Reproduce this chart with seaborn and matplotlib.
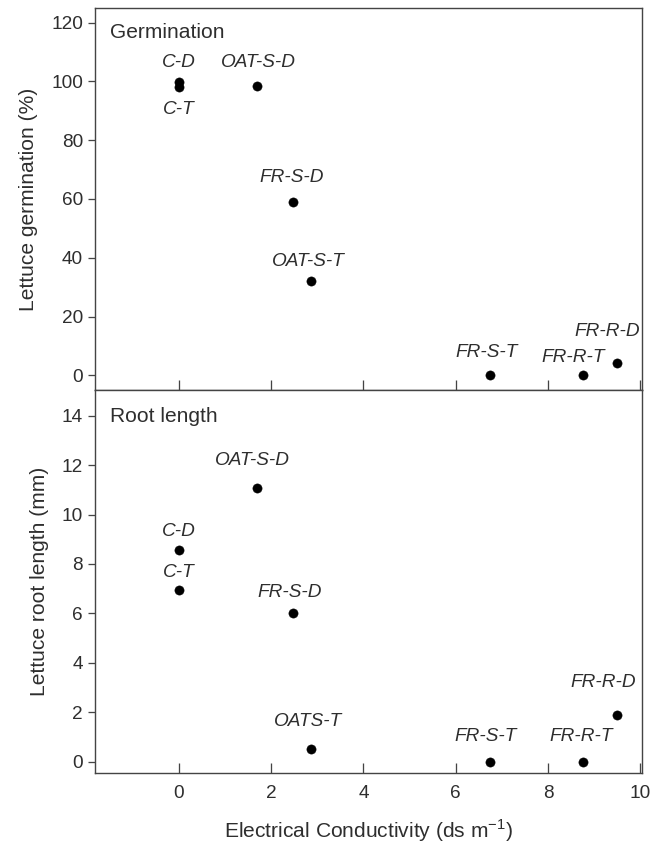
import matplotlib
matplotlib.use("Agg")
import matplotlib.pyplot as plt
import seaborn as sns
import pandas as pd

# ---- data ----
ec = [0.0, 0.0, 1.70, 2.48, 2.86, 6.75, 8.75, 9.49]
labels_germ = ["C-D", "C-T", "OAT-S-D", "FR-S-D", "OAT-S-T", "FR-S-T", "FR-R-T", "FR-R-D"]
germination = [99.8, 98.0, 98.5, 59.0, 32.0, 0.0, 0.0, 4.2]
labels_root = ["C-D", "C-T", "OAT-S-D", "FR-S-D", "OATS-T", "FR-S-T", "FR-R-T", "FR-R-D"]
root_length = [8.57, 6.95, 11.07, 6.01, 0.51, 0.0, 0.0, 1.89]
x_ticks = [0, 2, 4, 6, 8, 10]
germ_ticks = [0, 20, 40, 60, 80, 100, 120]
root_ticks = [0, 2, 4, 6, 8, 10, 12, 14]

# label offsets (points, dx, dy) – layout only
off_germ = [(0, 20), (0, -22), (1, 23), (-2, 24), (-2, 20), (-4, 23), (-9, 18), (-10, 31)]
off_root = [(0, 18), (0, 17), (-5, 28), (-4, 21), (-3, 28), (-5, 25), (-1, 25), (-14, 32)]

sns.set_theme(style="white")
plt.rcParams["font.family"] = ["Liberation Sans", "DejaVu Sans"]
plt.rcParams["mathtext.fontset"] = "custom"
plt.rcParams["mathtext.rm"] = "Liberation Sans"

DPI = 72
fig = plt.figure(figsize=(662 / DPI, 850 / DPI), dpi=DPI)
ax1 = fig.add_axes([0.1435, 0.5412, 0.8265, 0.4494])
ax2 = fig.add_axes([0.1435, 0.0906, 0.8265, 0.4506], sharex=ax1)

df_g = pd.DataFrame({"ec": ec, "val": germination, "lab": labels_germ})
df_r = pd.DataFrame({"ec": ec, "val": root_length, "lab": labels_root})

txt_col = "#2e2e2e"
for ax, df, offs in [(ax1, df_g, off_germ), (ax2, df_r, off_root)]:
    sns.scatterplot(data=df, x="ec", y="val", ax=ax, color="black", s=85,
                    edgecolor="black", linewidth=0.5, zorder=3)
    for (xv, yv, lab), (dx, dy) in zip(df[["ec", "val", "lab"]].values, offs):
        ax.annotate(lab, (xv, yv), xytext=(dx, dy), textcoords="offset points",
                    ha="center", va="center", fontsize=19, style="italic",
                    color=txt_col)
    for sp in ax.spines.values():
        sp.set_visible(True)
        sp.set_color("#444444")
        sp.set_linewidth(1.4)
    ax.tick_params(axis="y", direction="out", length=7, width=1.3, color="#444444",
                   labelsize=19, labelcolor=txt_col, pad=5, left=True)
    ax.tick_params(axis="x", direction="in", length=10, width=1.3, color="#444444",
                   labelsize=19, labelcolor=txt_col, pad=12, bottom=True)

ax1.set_xlim(-1.82, 10.04)
ax1.set_xticks(x_ticks)
ax1.set_ylim(-5, 125)
ax1.set_yticks(germ_ticks)
ax2.set_ylim(-0.46, 15.04)
ax2.set_yticks(root_ticks)
ax1.tick_params(axis="x", labelbottom=False)

ax1.set_xlabel("")
ax1.set_ylabel("Lettuce germination (%)", fontsize=21, color=txt_col, labelpad=13)
ax2.set_ylabel("Lettuce root length (mm)", fontsize=21, color=txt_col, labelpad=13)
ax2.set_xlabel("Electrical Conductivity (ds m$^{-1}$)", fontsize=21, color=txt_col,
               labelpad=15)

ax1.text(0.027, 0.937, "Germination", transform=ax1.transAxes, fontsize=21,
         color=txt_col, ha="left", va="center")
ax2.text(0.027, 0.930, "Root length", transform=ax2.transAxes, fontsize=21,
         color=txt_col, ha="left", va="center")

fig.savefig("out.png", dpi=DPI)
